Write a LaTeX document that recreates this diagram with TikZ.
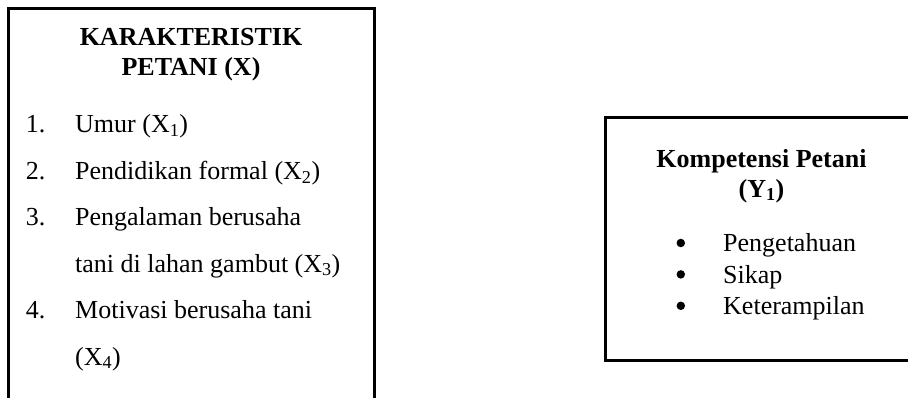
\documentclass[tikz,border=0pt]{standalone}
\usepackage{fontspec}
\setmainfont{Liberation Serif}
\usetikzlibrary{positioning}

\begin{document}
\begin{tikzpicture}[
    x=1pt, y=1pt,
    node distance=22pt and 29.5pt,
    panel/.style={rectangle, draw=black, line width=3pt, inner sep=0pt, outer sep=0pt, anchor=north west},
    headtext/.style={font=\fontsize{26}{30}\selectfont\bfseries, align=center, inner sep=0pt, anchor=north},
    itemtext/.style={font=\fontsize{26}{30}\selectfont, inner sep=0pt, text height=18pt, text depth=6pt},
    numtext/.style={itemtext},
    dot/.style={circle, fill=black, inner sep=0pt, minimum size=8.5pt, yshift=3pt}
]
\useasboundingbox (0,0) rectangle (908,-398);
\clip (0,0) rectangle (908,-398);

% 1. Karakteristik petani (X)
\node[panel, minimum width=366pt, minimum height=430pt] (xbox) at (8,-9) {};
\node[headtext] (xhead) at (191,-28) {KARAKTERISTIK\\PETANI (X)};

\node[itemtext, anchor=base west] (x1) at (75,-133) {Umur (X\textsubscript{1})};
\node[itemtext, below right=22pt and 0pt of x1.south west] (x2) {Pendidikan formal (X\textsubscript{2})};
\node[itemtext, below right=22pt and 0pt of x2.south west] (x3) {Pengalaman berusaha};
\node[itemtext, below right=22pt and 0pt of x3.south west] (x3b) {tani di lahan gambut (X\textsubscript{3})};
\node[itemtext, below right=22pt and 0pt of x3b.south west] (x4) {Motivasi berusaha tani};
\node[itemtext, below right=22pt and 0pt of x4.south west] (x4b) {(X\textsubscript{4})};

\node[numtext, left=of x1] (n1) {1.};
\node[numtext, left=of x2] (n2) {2.};
\node[numtext, left=of x3] (n3) {3.};
\node[numtext, left=of x4] (n4) {4.};

% 2. Kompetensi petani (Y1)
\node[panel, minimum width=312pt, minimum height=242pt] (ybox) at (605,-118) {};
\node[headtext] (yhead) at (761.5,-149) {Kompetensi Petani\\(Y\textsubscript{1})};

\node[itemtext, anchor=base west] (y1) at (723,-252) {Pengetahuan};
\node[itemtext, below right=7pt and 0pt of y1.south west] (y2) {Sikap};
\node[itemtext, below right=7pt and 0pt of y2.south west] (y3) {Keterampilan};

\node[dot, left=37.75pt of y1] (b1) {};
\node[dot, left=37.75pt of y2] (b2) {};
\node[dot, left=37.75pt of y3] (b3) {};

\end{tikzpicture}
\end{document}
